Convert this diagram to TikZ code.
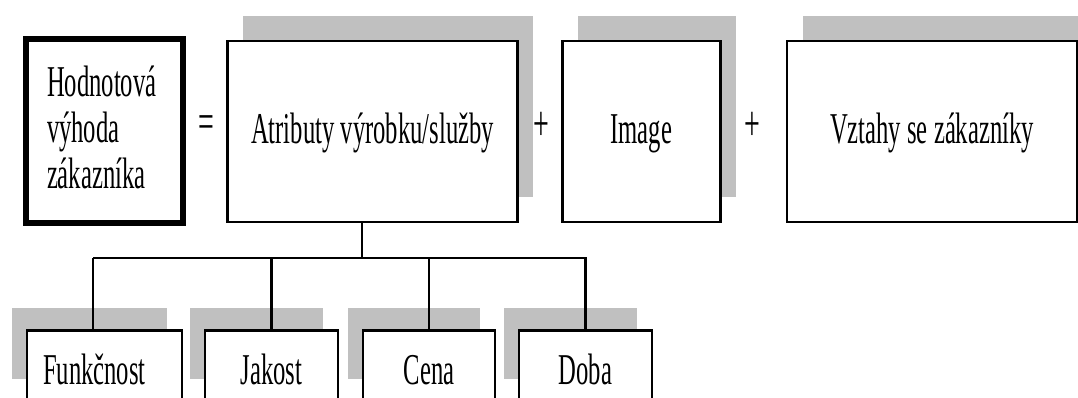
\documentclass[tikz,border=0pt]{standalone}
\usepackage{fontspec}
\setmainfont{Liberation Serif}[FakeStretch=0.56]
\usetikzlibrary{shadows}
\definecolor{shadowgray}{RGB}{192,192,192}
\begin{document}
\begin{tikzpicture}[x=1pt,y=-1pt,
  every node/.style={font=\fontsize{44pt}{46pt}\selectfont, inner sep=0pt},
  thickbox/.style={draw, line width=6.5pt, fill=white},
  topbox/.style={draw, line width=2.5pt, fill=white, minimum height=181pt,
    text height=25pt, text depth=0pt,
    drop shadow={shadow xshift=15.5pt, shadow yshift=25pt, fill=shadowgray, opacity=1}},
  botbox/.style={draw, line width=2.5pt, fill=white, minimum height=71.5pt,
    text height=35.5pt, text depth=0pt,
    drop shadow={shadow xshift=-15pt, shadow yshift=23pt, fill=shadowgray, opacity=1}},
  op/.style={font=\fontsize{50pt}{46pt}\selectfont},
  conn/.style={line width=2.2pt}]
\useasboundingbox (0,0) rectangle (1078,398);

% left box
\node[thickbox, minimum width=157pt, minimum height=184pt, text width=115pt, align=left,
  text height=24pt, text depth=92pt] (hv) at (104.5,131) {Hodnotová\\výhoda\\zákazníka};

% top boxes
\node[topbox, minimum width=290.4pt] (attr) at (372.5,131.5) {Atributy výrobku/služby};
\node[topbox, minimum width=158pt] (img) at (641.3,131.5) {Image};
\node[topbox, minimum width=290pt] (vz) at (932,131.5) {Vztahy se zákazníky};

% operators
\node[op] (eq) at (206,127) {=};
\node[op] (p1) at (541.7,126) {+};
\node[op] (p2) at (752,126) {+};

% bottom boxes
\node[botbox, minimum width=155pt, text width=123pt, align=left] (funk) at (104.5,366.25) {Funkčnost};
\node[botbox, minimum width=133pt] (jak) at (271.5,366.25) {Jakost};
\node[botbox, minimum width=132pt] (cena) at (429,366.25) {Cena};
\node[botbox, minimum width=133pt] (doba) at (585.5,366.25) {Doba};

% connectors
\coordinate (j0) at (362,258);
\coordinate (j1) at (93,258);
\draw[conn] (attr.south -| j0) -- (j0);
\draw[conn] (j1) -- (j1 |- funk.north);
\draw[conn] (j1) -- (doba.north |- j0) -- (doba.north);
\draw[conn] (jak.north |- j0) -- (jak.north);
\draw[conn] (cena.north |- j0) -- (cena.north);
\end{tikzpicture}
\end{document}
